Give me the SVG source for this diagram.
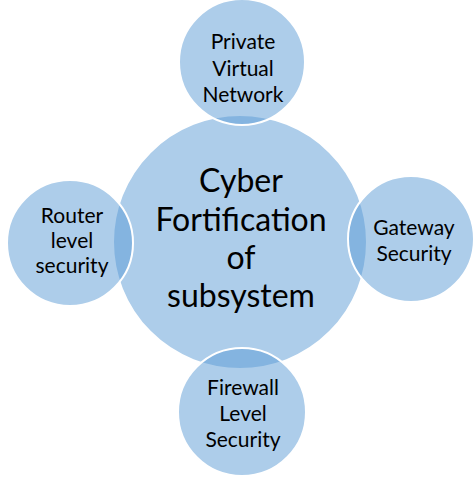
<svg xmlns="http://www.w3.org/2000/svg" width="474" height="478" viewBox="0 0 474 478">
<style>
.c{fill:#5B9BD5;fill-opacity:0.5;stroke:#fff;stroke-width:2}
.t{font-family:Lato,"Liberation Sans",sans-serif;fill:#000;text-anchor:middle}
.s{font-size:21px}
.m{font-size:32px}
</style>
<rect width="474" height="478" fill="#fff"/>
<g id="center">
<circle class="c" cx="240" cy="242" r="127"/>
<text class="t m" x="241" y="192">Cyber</text>
<text class="t m" x="241" y="231">Fortification</text>
<text class="t m" x="241" y="269">of</text>
<text class="t m" x="241" y="307">subsystem</text>
</g>
<g id="top">
<circle class="c" cx="242" cy="62" r="63"/>
<text class="t s" x="243" y="49">Private</text>
<text class="t s" x="243" y="76">Virtual</text>
<text class="t s" x="243" y="102">Network</text>
</g>
<g id="left">
<circle class="c" cx="70" cy="243" r="63"/>
<text class="t s" x="72" y="223">Router</text>
<text class="t s" x="72" y="248">level</text>
<text class="t s" x="72" y="273">security</text>
</g>
<g id="right">
<circle class="c" cx="411" cy="239" r="63"/>
<text class="t s" x="414" y="235">Gateway</text>
<text class="t s" x="414" y="261">Security</text>
</g>
<g id="bottom">
<circle class="c" cx="242" cy="412" r="64"/>
<text class="t s" x="243" y="395">Firewall</text>
<text class="t s" x="243" y="421">Level</text>
<text class="t s" x="243" y="447">Security</text>
</g>
<g id="connectors"></g>
</svg>
